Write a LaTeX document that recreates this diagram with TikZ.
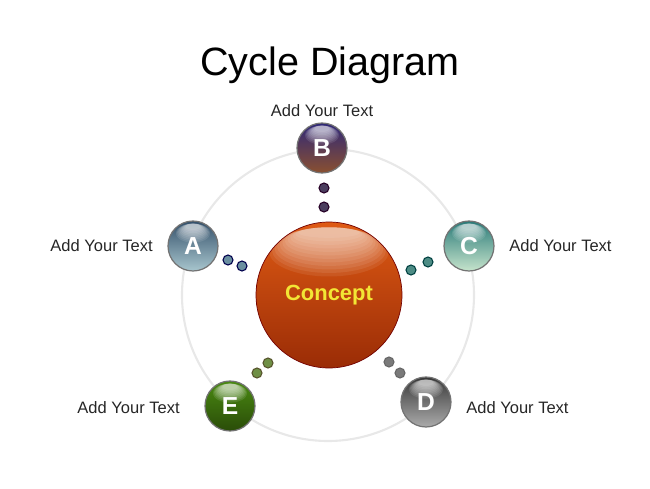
\documentclass[tikz,border=0pt]{standalone}
\usepackage{fontspec}
\setmainfont{Liberation Sans}
\usetikzlibrary{shapes,positioning}
\definecolor{ringgray}{HTML}{E8E8E8}
\definecolor{conceptyellow}{HTML}{F2E635}
% ball colours: top, mid, bottom
\definecolor{coretop}{HTML}{DE5A14}
\definecolor{coremid}{HTML}{D6520E}
\definecolor{corebot}{HTML}{9A2C06}
\definecolor{btop}{HTML}{2E2878}
\definecolor{bmid}{HTML}{3E3080}
\definecolor{bbot}{HTML}{8A5030}
\definecolor{atop}{HTML}{34506A}
\definecolor{amid}{HTML}{5A7890}
\definecolor{abot}{HTML}{A8C6CE}
\definecolor{ctop}{HTML}{2A7A78}
\definecolor{cmid}{HTML}{5AAAA0}
\definecolor{cbot}{HTML}{C6E4CC}
\definecolor{dtop}{HTML}{383838}
\definecolor{dmid}{HTML}{626262}
\definecolor{dbot}{HTML}{ABABAB}
\definecolor{etop}{HTML}{4A8A12}
\definecolor{emid}{HTML}{3C7410}
\definecolor{ebot}{HTML}{2A4C08}
\definecolor{bdot}{HTML}{4B3D5E}
\definecolor{adot}{HTML}{6A8FA0}
\definecolor{cdot}{HTML}{4D8C85}
\definecolor{ddot}{HTML}{7A7A7A}
\definecolor{edot}{HTML}{6F8F45}
\tikzstyle{ring}=[draw=ringgray, line width=1.2pt]

\begin{document}
\begin{tikzpicture}
      [x=0.02cm, y=0.02cm,
      ball/.style={circle, draw=black!55, line width=0.7pt, minimum size=1cm,
        inner sep=0pt, text=white, font=\bfseries\fontsize{14}{14}\selectfont,
        top color=#1top, middle color=#1mid, bottom color=#1bot,
        path picture={\foreach \k in {0,...,8}
          {\fill[white, fill opacity=.11] ([yshift={-6.9pt+0.45pt*\k}]path picture bounding box.north)
            ellipse ({9.8pt-0.7pt*\k} and {5.4pt-0.45pt*\k});}}},
      core/.style={circle, draw=red!45!black, line width=0.4pt, minimum size=2.92cm,
        inner sep=0pt, top color=coretop, middle color=coremid, bottom color=corebot,
        text=conceptyellow, font=\bfseries\fontsize{12.5}{14}\selectfont,
        path picture={\foreach \k in {0,...,11}
          {\fill[white, fill opacity=.08] ([yshift={-17pt+1pt*\k}]path picture bounding box.north)
            ellipse ({34pt-1.5pt*\k} and {14pt-1pt*\k});}}},
      dot/.style={circle, line width=0.6pt, minimum size=0.2cm, inner sep=0pt},
      say/.style={font=\fontsize{9.4}{11}\selectfont, text=black!85, inner sep=0pt}]
      \useasboundingbox (0,0) rectangle (650,488);
      % Title
      \node [font=\fontsize{22.5}{27}\selectfont] (title) at (330,423) {Cycle Diagram};
      % Ring and center
      \draw [ring] (328,193) circle [radius=146];
      \node [core] (concept) at (329,193) {Concept};
      % Place balls
      \node [ball=b] (b) at (322,340) {B};
      \node [ball=a] (a) at (193,242) {A};
      \node [ball=c] (c) at (469,242) {C};
      \node [ball=d] (d) at (426,86) {D};
      \node [ball=e] (e) at (230,82) {E};
      % Labels
      \node [say] (lb) at (322,377) {Add Your Text};
      \node [say, anchor=east] (la) at (153,242) {Add Your Text};
      \node [say, anchor=west] (lc) at (509,242) {Add Your Text};
      \node [say, anchor=west] (ld) at (466,80) {Add Your Text};
      \node [say, anchor=east] (le) at (180,80) {Add Your Text};
      % Dots between center and balls
      \node [dot, draw=violet!30!black, fill=bdot] (b1) at (324,300) {};
      \node [dot, draw=violet!30!black, fill=bdot] (b2) at (324,281) {};
      \node [dot, draw=blue!30!black, fill=adot] (a1) at (228,228) {};
      \node [dot, draw=blue!30!black, fill=adot] (a2) at (242,222) {};
      \node [dot, draw=teal!50!black, fill=cdot] (c1) at (411,218) {};
      \node [dot, draw=teal!50!black, fill=cdot] (c2) at (428,226) {};
      \node [dot, draw=black!60, fill=ddot] (d1) at (389,126) {};
      \node [dot, draw=black!60, fill=ddot] (d2) at (400,115) {};
      \node [dot, draw=olive!50!black, fill=edot] (e1) at (257,115) {};
      \node [dot, draw=olive!50!black, fill=edot] (e2) at (268,125) {};

    \end{tikzpicture}
\end{document}
